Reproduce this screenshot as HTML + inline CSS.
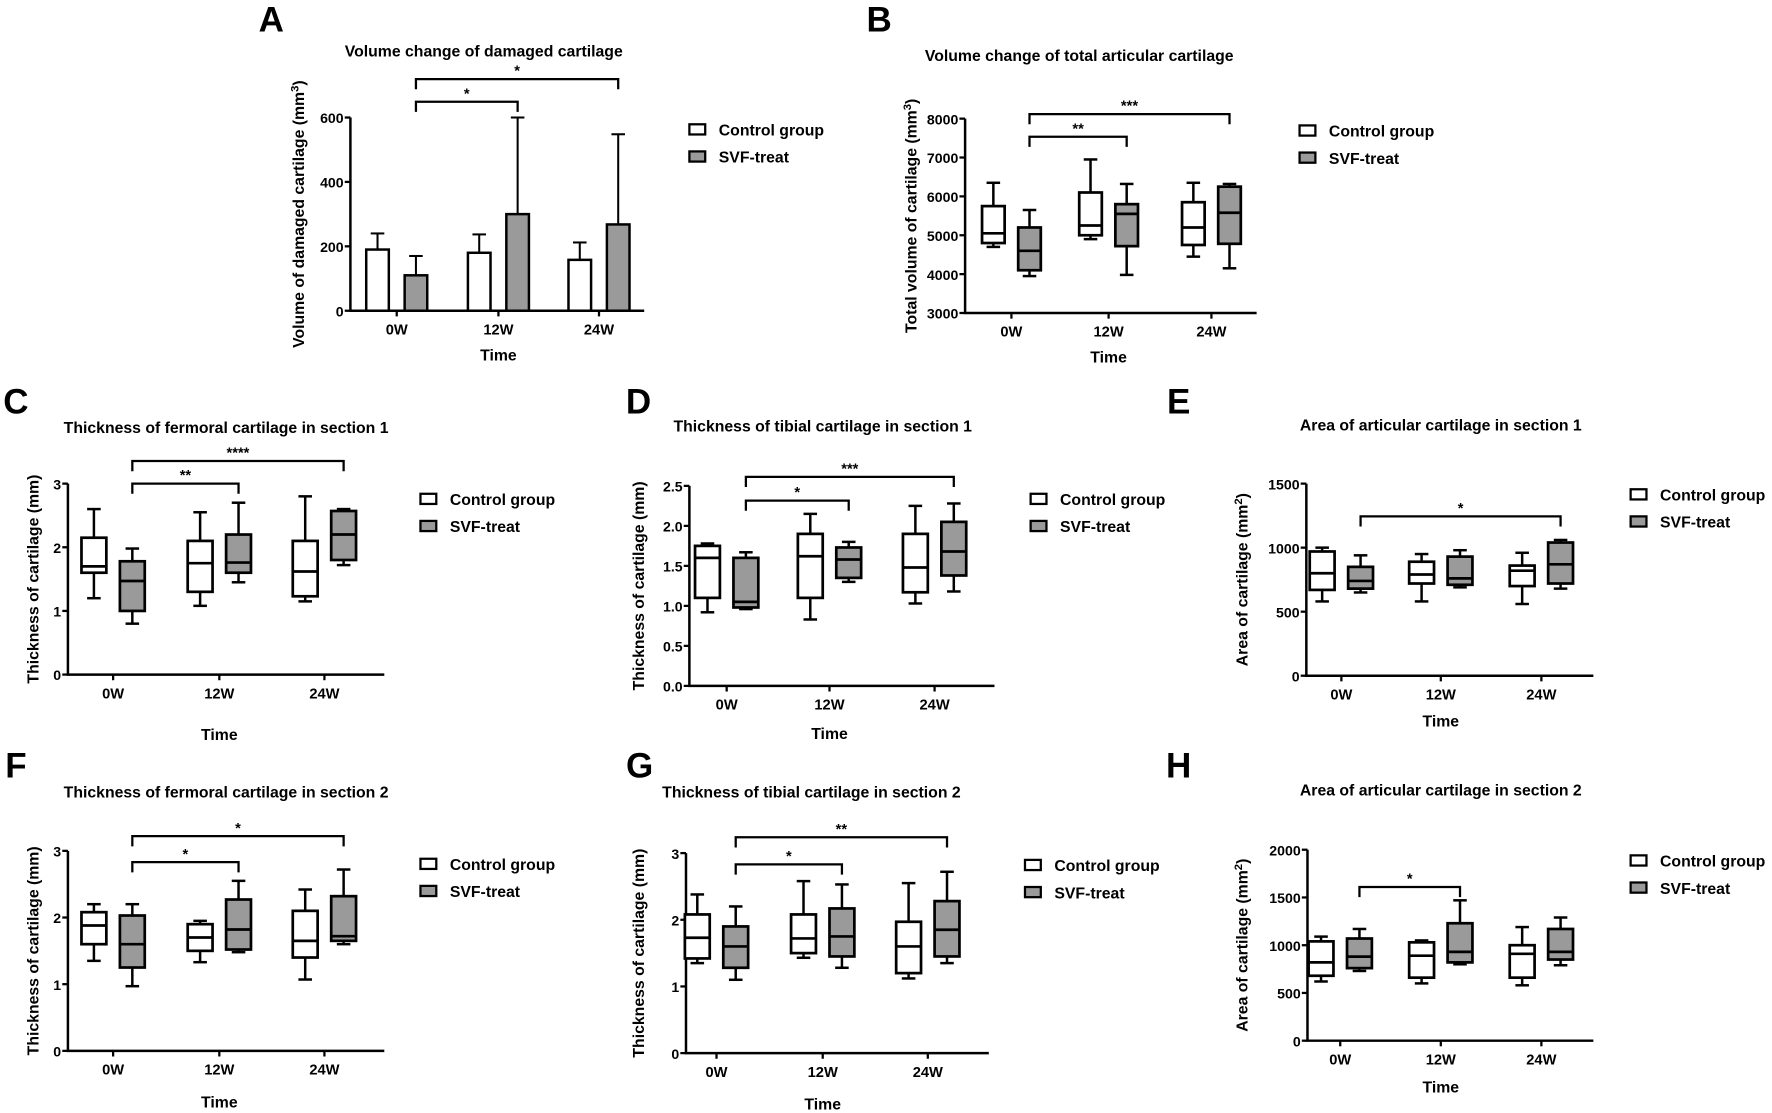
<!DOCTYPE html>
<html><head><meta charset="utf-8"><style>
html,body{margin:0;padding:0;background:#fff;}
svg{display:block;font-family:"Liberation Sans",Arial,sans-serif;}
</style></head><body>
<svg id="fig" width="1772" height="1113" viewBox="0 0 1568 985" xmlns="http://www.w3.org/2000/svg"></svg>
<script>
// ---- data ----
const categories = ['0W','12W','24W'];
// Panel A bar data
const barACtrl = [190, 180, 158];
const barACtrlErr = [240, 237, 212];
const barASvf = [110, 300, 268];
const barASvfErr = [170, 600, 548];
const ticksA = [0, 200, 400, 600];
// Box data [min,q1,median,q3,max]
const boxBCtrl = [[4700,4800,5050,5750,6350],[4900,5000,5250,6100,6950],[4450,4750,5200,5850,6350]];
const boxBSvf  = [[3950,4100,4600,5200,5650],[3980,4720,5550,5800,6320],[4150,4780,5580,6250,6320]];
const ticksB = [3000,4000,5000,6000,7000,8000];
const boxCCtrl = [[1.2,1.6,1.7,2.15,2.6],[1.08,1.3,1.75,2.1,2.55],[1.15,1.23,1.62,2.1,2.8]];
const boxCSvf  = [[0.8,1.0,1.47,1.78,1.98],[1.45,1.6,1.76,2.2,2.7],[1.72,1.8,2.2,2.57,2.6]];
const ticksC = [0,1,2,3];
const boxDCtrl = [[0.92,1.1,1.6,1.75,1.78],[0.83,1.1,1.62,1.9,2.15],[1.03,1.17,1.48,1.9,2.25]];
const boxDSvf  = [[0.96,0.98,1.05,1.6,1.67],[1.3,1.35,1.58,1.73,1.8],[1.18,1.38,1.68,2.05,2.28]];
const ticksD = [0,0.5,1,1.5,2,2.5];
const tickLabelsD = ['0.0','0.5','1.0','1.5','2.0','2.5'];
const boxECtrl = [[580,670,800,970,1000],[580,720,790,890,950],[560,700,820,860,960]];
const boxESvf  = [[650,680,740,850,940],[690,710,760,930,980],[680,720,870,1040,1060]];
const ticksE = [0,500,1000,1500];
const boxFCtrl = [[1.35,1.6,1.88,2.08,2.2],[1.33,1.5,1.7,1.9,1.95],[1.07,1.4,1.65,2.1,2.42]];
const boxFSvf  = [[0.97,1.25,1.6,2.03,2.2],[1.48,1.52,1.82,2.27,2.55],[1.6,1.65,1.72,2.32,2.72]];
const ticksF = [0,1,2,3];
const boxGCtrl = [[1.35,1.42,1.73,2.08,2.38],[1.43,1.5,1.72,2.08,2.58],[1.12,1.2,1.6,1.97,2.55]];
const boxGSvf  = [[1.1,1.28,1.6,1.9,2.2],[1.28,1.45,1.75,2.17,2.53],[1.35,1.45,1.85,2.28,2.72]];
const ticksG = [0,1,2,3];
const boxHCtrl = [[620,680,820,1040,1090],[600,660,890,1030,1050],[580,660,910,1000,1190]];
const boxHSvf  = [[730,760,880,1070,1170],[800,820,930,1230,1470],[790,850,930,1170,1290]];
const ticksH = [0,500,1000,1500,2000];

const NS='http://www.w3.org/2000/svg';
const svg=document.getElementById('fig');
function mk(tag,attrs,parent,text){const e=document.createElementNS(NS,tag);for(const k in attrs)e.setAttribute(k,attrs[k]);if(text!==undefined)e.textContent=text;(parent||svg).appendChild(e);return e;}

function panel(cfg){
  const g=mk('g',{});
  
  
  const y=v=>cfg.y0-(v-cfg.vmin)/(cfg.vmax-cfg.vmin)*(cfg.y0-cfg.y1);
  const L=mk('text',{x:cfg.lx,y:cfg.ly,'font-size':31,'font-weight':'bold','text-anchor':'middle'},g,cfg.letter);
  
  
  const T=mk('text',{x:cfg.tx,y:cfg.ty,'font-size':14,'font-weight':'bold','text-anchor':'middle'},g,cfg.title);
  
  
  const ax=mk('path',{d:`M${cfg.ax} ${cfg.y1}V${cfg.y0}H${cfg.xend}`,stroke:'#000','stroke-width':2.2,fill:'none'},g);
  
  
  cfg.ticks.forEach((t,i)=>{
    mk('line',{x1:cfg.ax-5,x2:cfg.ax,y1:y(t),y2:y(t),stroke:'#000','stroke-width':2},g);
    const tl=mk('text',{x:cfg.ax-6,y:y(t)+5,'font-size':12.5,'font-weight':'bold','text-anchor':'end'},g,cfg.tickLabels?cfg.tickLabels[i]:String(t));
    
    
  });
  categories.forEach((c,i)=>{
    const cx=cfg.cx[i];
    mk('line',{x1:cx,x2:cx,y1:cfg.y0,y2:cfg.y0+5,stroke:'#000','stroke-width':2},g);
    const cl=mk('text',{x:cx,y:cfg.y0+21,'font-size':13,'font-weight':'bold','text-anchor':'middle'},g,c);
    
    
  });
  const xt=mk('text',{x:cfg.cx[1],y:cfg.y0+cfg.timeDy,'font-size':14,'font-weight':'bold','text-anchor':'middle'},g,'Time');
  
  
  const ymid=(cfg.y0+cfg.y1)/2;
  const yt=mk('text',{x:cfg.ylx,y:ymid,'font-size':14,'font-weight':'bold','text-anchor':'middle',transform:`rotate(-90 ${cfg.ylx} ${ymid})`},g);
  
  
  yt.textContent=cfg.ylabel;
  if(cfg.sup){mk('tspan',{'font-size':10,dy:-5},yt,cfg.sup);mk('tspan',{dy:5},yt,')');}
  const off=cfg.off, w=cfg.bw;
  const series=[[cfg.ctrl,'#fff',-off,'control'],[cfg.svf,'#9a9a9a',off,'svf']];
  series.forEach(([data,fill,o,nm])=>{
    data.forEach((d,i)=>{
      const cx=cfg.cx[i]+o;
      if(cfg.bar){
        const err=nm==='control'?cfg.ctrlErr[i]:cfg.svfErr[i];
        mk('line',{x1:cx,x2:cx,y1:y(d),y2:y(err),stroke:'#000','stroke-width':1.8},g);
        mk('line',{x1:cx-6,x2:cx+6,y1:y(err),y2:y(err),stroke:'#000','stroke-width':1.8},g);
        const r=mk('rect',{x:cx-w/2,y:y(d),width:w,height:y(0)-y(d),fill:fill,stroke:'#000','stroke-width':2.2},g);
        
        
      } else {
        const [mn,q1,md,q3,mx]=d;
        mk('line',{x1:cx,x2:cx,y1:y(mx),y2:y(mn),stroke:'#000','stroke-width':2.2},g);
        mk('line',{x1:cx-6,x2:cx+6,y1:y(mx),y2:y(mx),stroke:'#000','stroke-width':2.2},g);
        mk('line',{x1:cx-6,x2:cx+6,y1:y(mn),y2:y(mn),stroke:'#000','stroke-width':2.2},g);
        const r=mk('rect',{x:cx-w/2,y:y(q3),width:w,height:y(q1)-y(q3),fill:fill,stroke:'#000','stroke-width':2.4},g);
        
        
        mk('line',{x1:cx-w/2,x2:cx+w/2,y1:y(md),y2:y(md),stroke:'#000','stroke-width':2.4},g);
      }
    });
  });
  cfg.sig.forEach(s=>{
    const xa=cfg.cx[s[0]]+off, xb=cfg.cx[s[1]]+off;
    const b=mk('path',{d:`M${xa} ${s[2]+9}V${s[2]}H${xb}V${s[2]+9}`,stroke:'#000','stroke-width':2,fill:'none'},g);
    
    
    mk('text',{x:(xa+xb)/2,y:s[2]-3,'font-size':13,'font-weight':'bold','text-anchor':'middle'},g,s[3]);
  });
  [['Control group','#fff',0],['SVF-treat','#9a9a9a',24]].forEach(([t,f,dy])=>{
    const lg=mk('g',{},g);
    
    
    mk('rect',{x:cfg.legx,y:cfg.legy+dy-5,width:14,height:9,fill:f,stroke:'#000','stroke-width':2},lg);
    mk('text',{x:cfg.legx+26,y:cfg.legy+dy+5,'font-size':14,'font-weight':'bold'},lg,t);
  });
}

panel({letter:'A',lx:240,ly:28,title:'Volume change of damaged cartilage',tx:428,ty:50,ax:310,y0:275,y1:104,vmin:0,vmax:600,xend:570,
  ticks:ticksA,cx:[351,441,530],off:17,bw:20,bar:true,ctrl:barACtrl,ctrlErr:barACtrlErr,svf:barASvf,svfErr:barASvfErr,timeDy:44,
  ylabel:'Volume of damaged cartilage (mm',sup:'3',ylx:269,sig:[[0,1,90,'*'],[0,2,70,'*']],legx:610,legy:115});
panel({letter:'B',lx:778,ly:28,title:'Volume change of total articular cartilage',tx:955,ty:54,ax:854,y0:277,y1:105,vmin:3000,vmax:8000,xend:1112,
  ticks:ticksB,cx:[895,981,1072],off:16,bw:20,ctrl:boxBCtrl,svf:boxBSvf,timeDy:44,
  ylabel:'Total volume of cartilage (mm',sup:'3',ylx:811,sig:[[0,1,121,'**'],[0,2,101,'***']],legx:1150,legy:116});
panel({letter:'C',lx:14,ly:366,title:'Thickness of fermoral cartilage  in section 1',tx:200,ty:383,ax:60,y0:597,y1:428,vmin:0,vmax:3,xend:340,
  ticks:ticksC,cx:[100,194,287],off:17,bw:22,ctrl:boxCCtrl,svf:boxCSvf,timeDy:58,
  ylabel:'Thickness of cartilage (mm)',ylx:34,sig:[[0,1,428,'**'],[0,2,408,'****']],legx:372,legy:442});
panel({letter:'D',lx:565,ly:366,title:'Thickness of tibial cartilage in section 1',tx:728,ty:382,ax:610,y0:607,y1:430,vmin:0,vmax:2.5,xend:880,
  ticks:ticksD,tickLabels:tickLabelsD,cx:[643,734,827],off:17,bw:22,ctrl:boxDCtrl,svf:boxDSvf,timeDy:47,
  ylabel:'Thickness of cartilage (mm)',ylx:570,sig:[[0,1,443,'*'],[0,2,422,'***']],legx:912,legy:442});
panel({letter:'E',lx:1043,ly:366,title:'Area of articular cartilage in section 1',tx:1275,ty:381,ax:1156,y0:598,y1:428,vmin:0,vmax:1500,xend:1410,
  ticks:ticksE,cx:[1187,1275,1364],off:17,bw:22,ctrl:boxECtrl,svf:boxESvf,timeDy:45,
  ylabel:'Area of cartilage (mm',sup:'2',ylx:1104,sig:[[0,2,457,'*']],legx:1443,legy:438});
panel({letter:'F',lx:14,ly:688,title:'Thickness of  fermoral cartilage  in section 2',tx:200,ty:706,ax:60,y0:930,y1:753,vmin:0,vmax:3,xend:340,
  ticks:ticksF,cx:[100,194,287],off:17,bw:22,ctrl:boxFCtrl,svf:boxFSvf,timeDy:50,
  ylabel:'Thickness of cartilage (mm)',ylx:34,sig:[[0,1,763,'*'],[0,2,740,'*']],legx:372,legy:765});
panel({letter:'G',lx:566,ly:688,title:'Thickness of tibial cartilage in section 2',tx:718,ty:706,ax:607,y0:932,y1:755,vmin:0,vmax:3,xend:875,
  ticks:ticksG,cx:[634,728,821],off:17,bw:22,ctrl:boxGCtrl,svf:boxGSvf,timeDy:50,
  ylabel:'Thickness of cartilage (mm)',ylx:570,sig:[[0,1,765,'*'],[0,2,741,'**']],legx:907,legy:766});
panel({letter:'H',lx:1043,ly:688,title:'Area of articular cartilage in section 2',tx:1275,ty:704,ax:1157,y0:921,y1:752,vmin:0,vmax:2000,xend:1410,
  ticks:ticksH,cx:[1186,1275,1364],off:17,bw:22,ctrl:boxHCtrl,svf:boxHSvf,timeDy:46,
  ylabel:'Area of cartilage (mm',sup:'2',ylx:1104,sig:[[0,1,785,'*']],legx:1443,legy:762});
</script>
</body></html>
